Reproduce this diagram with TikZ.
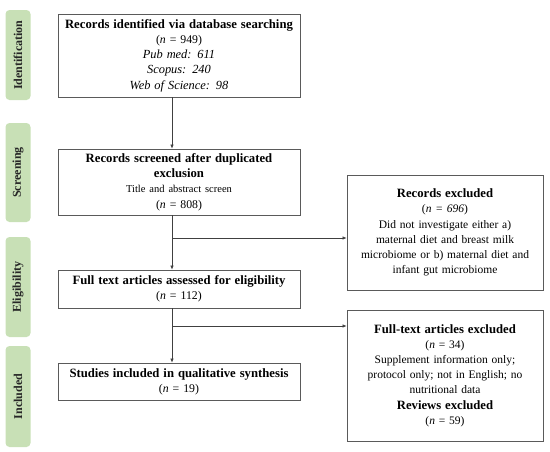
\documentclass[tikz,border=0pt]{standalone}
\usepackage{fontspec}
\setmainfont{Liberation Serif}
\usetikzlibrary{arrows.meta}
\definecolor{sidegreen}{RGB}{200,224,182}
\definecolor{boxline}{RGB}{90,90,90}
\newcommand{\hd}[1]{{\fontsize{12.7}{15.3}\selectfont\bfseries #1}}
\newcommand{\itl}[1]{{\fontsize{12.4}{15.3}\selectfont\itshape #1}}
\tikzset{
  side/.style={fill=sidegreen, rounded corners=4pt, minimum width=25pt, inner sep=0pt, font=\fontsize{12}{14}\selectfont\bfseries, text=black!85},
  mainbox/.style={draw=boxline, line width=0.8pt, minimum width=242pt, text width=240pt, align=center, inner sep=0pt, font=\fontsize{11.8}{15.3}\selectfont},
  exbox/.style={draw=boxline, line width=0.8pt, minimum width=196pt, text width=194pt, align=center, inner sep=0pt, font=\fontsize{11.5}{15.2}\selectfont},
  conn/.style={draw=black!75, line width=0.6pt},
  arr/.style={conn, -{Latex[length=4pt,width=3.5pt]}}
}
\begin{document}
\begin{tikzpicture}[x=1pt,y=-1pt]
\useasboundingbox (0,0) rectangle (550,451);
% side labels
\node[side, minimum height=90pt] (sid) at (18,55) {\rotatebox{90}{Identification}};
\node[side, minimum height=99pt] (ssc) at (18,172.5) {\rotatebox{90}{Screening}};
\node[side, minimum height=100pt] (sel) at (18,287) {\rotatebox{90}{Eligibility}};
\node[side, minimum height=101pt] (sin) at (18,396.5) {\rotatebox{90}{Included}};
% main boxes
\node[mainbox, minimum height=83pt] (b1) at (179,55.5) {\hd{Records identified via database searching}\\(\textit{n} = 949)\\\itl{Pub med: 611}\\\itl{Scopus: 240}\\\itl{Web of Science: 98}\\[-5pt]};
\node[mainbox, minimum height=66pt] (b2) at (179,182) {\hd{Records screened after duplicated}\\\hd{exclusion}\\{\fontsize{10.5}{13}\selectfont Title and abstract screen}\\(\textit{n} = 808)\\[-3pt]};
\node[mainbox, minimum height=38pt] (b3) at (179,289) {\hd{Full text articles assessed for eligibility}\\(\textit{n} = 112)};
\node[mainbox, minimum height=37pt] (b4) at (179,381.5) {\hd{Studies included in qualitative synthesis}\\(\textit{n} = 19)};
% exclusion boxes
\node[exbox, minimum height=115pt] (e1) at (445,232.5) {\hd{Records excluded}\\(\textit{n = 696})\\Did not investigate either a)\\maternal diet and breast milk\\microbiome or b) maternal diet and\\infant gut microbiome\\[4pt]};
\node[exbox, minimum height=131pt] (e2) at (445,375.5) {\hd{Full-text articles excluded}\\(\textit{n} = 34)\\Supplement information only;\\protocol only; not in English; no\\nutritional data\\\hd{Reviews excluded}\\(\textit{n} = 59)\\[4pt]};
% connectors
\coordinate (t1) at (172,0 |- b1.south);
\coordinate (t2) at (172,0 |- b2.south);
\coordinate (t3) at (172,0 |- b3.south);
\coordinate (j1) at (172,238);
\coordinate (j2) at (172,326);
\draw[arr] (t1) -- (t1 |- b2.north);
\draw[arr] (t2) -- (t2 |- b3.north);
\draw[arr] (t3) -- (t3 |- b4.north);
\draw[arr] (j1) -- (j1 -| e1.west);
\draw[arr] (j2) -- (j2 -| e2.west);
\end{tikzpicture}
\end{document}
